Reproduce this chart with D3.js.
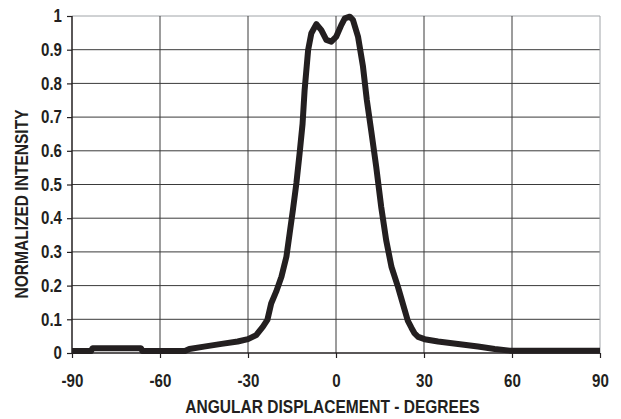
<!DOCTYPE html>
<html>
<head>
<meta charset="utf-8">
<script src="https://cdn.jsdelivr.net/npm/d3@7"></script>
<style>
  body { margin: 0; background: #fff; }
  svg text { font-family: "Liberation Sans", Arial, sans-serif; font-weight: bold; fill: #231f20; }
</style>
</head>
<body>
<svg id="chart" width="621" height="419"></svg>
<script>
// angle (degrees) vs normalized intensity
const angles = [-90, -83.5, -83, -66.5, -66, -51.5, -50, -45, -39, -33.5, -30, -27.2, -24.9, -23.4,
  -22.1, -20.4, -18.6, -16.9, -15.8, -14.7, -13.5, -12.4, -11.4, -10.7, -9.5, -8.4, -6.7, -5.0,
  -3.3, -1.6, 0.1, 1.8, 3.0, 4.7, 5.8, 7.5, 9.2, 10.5, 12.0, 13.7, 15.4, 17.1, 18.9, 21.1, 23.4,
  24.5, 25.7, 26.8, 28.0, 30.2, 34.8, 41.6, 48.4, 54.1, 59.2, 90];
const intensity = [0.006, 0.006, 0.014, 0.014, 0.006, 0.006, 0.012, 0.019, 0.027, 0.034, 0.041, 0.053, 0.078, 0.098,
  0.147, 0.182, 0.226, 0.286, 0.355, 0.424, 0.504, 0.593, 0.68, 0.78, 0.899, 0.949, 0.976, 0.958,
  0.929, 0.924, 0.939, 0.973, 0.993, 0.998, 0.988, 0.939, 0.850, 0.751, 0.66, 0.553, 0.434, 0.335, 0.256, 0.197, 0.128,
  0.095, 0.075, 0.058, 0.048, 0.041, 0.034, 0.027, 0.019, 0.012, 0.007, 0.007];
const xTicks = [-90, -60, -30, 0, 30, 60, 90];
const yTicks = [0, 0.1, 0.2, 0.3, 0.4, 0.5, 0.6, 0.7, 0.8, 0.9, 1];

const margin = { top: 16, right: 21, bottom: 66, left: 72 };
const squeeze = 0.84; // the reference uses a narrow bold face
const svg = d3.select('#chart');
const width = +svg.attr('width') - margin.left - margin.right;
const height = +svg.attr('height') - margin.top - margin.bottom;

const x = d3.scaleLinear().domain([-90, 90]).range([0, width]);
const y = d3.scaleLinear().domain([0, 1]).range([height, 0]);

const g = svg.append('g').attr('transform', `translate(${margin.left},${margin.top})`);

// grid
g.append('g')
  .selectAll('line')
  .data(yTicks.filter(d => d > 0))
  .enter()
  .append('line')
  .attr('x1', 0).attr('x2', width)
  .attr('y1', d => y(d)).attr('y2', d => y(d))
  .style('stroke', d => d === 1 ? '#a0a4a8' : '#3a3a3a')
  .style('stroke-width', 1);

g.append('g')
  .selectAll('line')
  .data(xTicks.filter(d => d > -90))
  .enter()
  .append('line')
  .attr('y1', 0).attr('y2', height)
  .attr('x1', d => x(d)).attr('x2', d => x(d))
  .style('stroke', d => d === 90 ? '#a0a4a8' : '#3a3a3a')
  .style('stroke-width', 1);

// axes
const xAxis = g.append('g')
  .attr('transform', `translate(0,${height})`)
  .call(d3.axisBottom(x).tickValues(xTicks).tickSize(5).tickPadding(16).tickFormat(d => String(d)));
const yAxis = g.append('g')
  .call(d3.axisLeft(y).tickValues(yTicks).tickSize(5).tickPadding(5).tickFormat(d => d === 0 || d === 1 ? String(d) : d.toFixed(1)));

[xAxis, yAxis].forEach(a => {
  a.attr('font-family', null).attr('font-size', null);
  a.selectAll('path').style('stroke', '#231f20').style('stroke-width', 1.5);
  a.selectAll('line').style('stroke', '#231f20').style('stroke-width', 1.2);
  a.selectAll('text')
    .style('font-size', '18px')
    .attr('x', function () { return (+d3.select(this).attr('x') || 0) / squeeze; })
    .attr('transform', `scale(${squeeze},1)`);
});
xAxis.selectAll('path').attr('d', `M0,0H${width}`);
yAxis.selectAll('path').attr('d', `M0,${height}V0`);

// curve
const line = d3.line()
  .x(d => x(d[0]))
  .y(d => y(d[1]))
  .curve(d3.curveLinear);

g.append('path')
  .datum(angles.map((a, i) => [a, intensity[i]]))
  .attr('d', line)
  .style('fill', 'none')
  .style('stroke', '#231f20')
  .style('stroke-width', 6)
  .style('stroke-linejoin', 'round');

// titles
svg.append('text')
  .attr('transform', `translate(332.5,413) scale(${squeeze},1)`)
  .attr('text-anchor', 'middle')
  .style('font-size', '18.5px')
  .text('ANGULAR DISPLACEMENT - DEGREES');

svg.append('text')
  .attr('transform', `translate(28,204) rotate(-90) scale(${squeeze},1)`)
  .attr('text-anchor', 'middle')
  .style('font-size', '18.5px')
  .text('NORMALIZED INTENSITY');
</script>
</body>
</html>
